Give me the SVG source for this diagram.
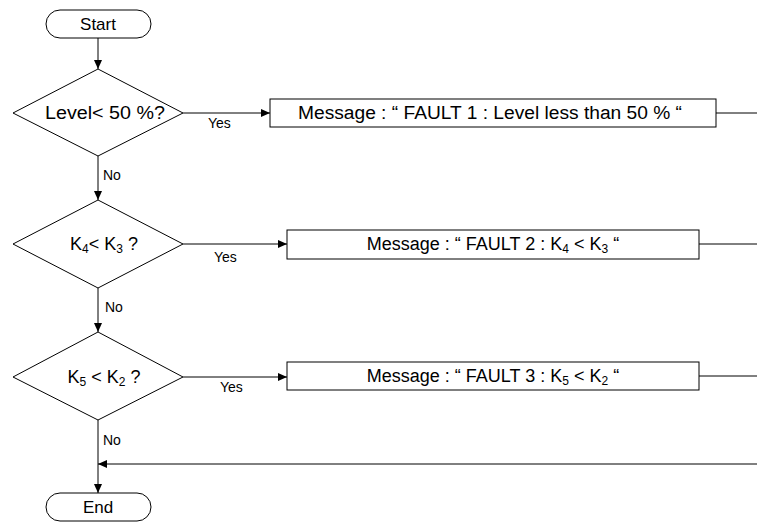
<svg xmlns="http://www.w3.org/2000/svg" width="757" height="523" viewBox="0 0 757 523">
  <style>
    .shape { fill: #ffffff; stroke: #000000; stroke-width: 1; }
    .line { fill: none; stroke: #000000; stroke-width: 1; }
    .main { font-family: "Liberation Sans", Arial, sans-serif; font-size: 18px; fill: #000000; text-anchor: middle; }
    .term { font-family: "Liberation Sans", Arial, sans-serif; font-size: 17px; fill: #000000; text-anchor: middle; }
    .lbl { font-family: "Liberation Sans", Arial, sans-serif; font-size: 14px; fill: #000000; }
    .sub { font-size: 12px; }
  </style>
  <defs>
    <marker id="arrow" markerWidth="10" markerHeight="10" refX="9" refY="5" orient="auto" markerUnits="userSpaceOnUse">
      <path d="M0,1 L9,5 L0,9 Z" fill="#000000"/>
    </marker>
  </defs>
  <rect width="757" height="523" fill="#ffffff"/>

  <!-- connectors -->
  <g id="connectors">
    <line class="line" x1="98" y1="38" x2="98" y2="69" marker-end="url(#arrow)"/>
    <line class="line" x1="183" y1="113" x2="270" y2="113" marker-end="url(#arrow)"/>
    <line class="line" x1="716" y1="113" x2="757" y2="113"/>
    <line class="line" x1="98" y1="156" x2="98" y2="200" marker-end="url(#arrow)"/>
    <line class="line" x1="183" y1="244" x2="287" y2="244" marker-end="url(#arrow)"/>
    <line class="line" x1="699" y1="244" x2="757" y2="244"/>
    <line class="line" x1="98" y1="288" x2="98" y2="332" marker-end="url(#arrow)"/>
    <line class="line" x1="183" y1="377" x2="287" y2="377" marker-end="url(#arrow)"/>
    <line class="line" x1="699" y1="376" x2="757" y2="376"/>
    <line class="line" x1="98" y1="420" x2="98" y2="493" marker-end="url(#arrow)"/>
    <line class="line" x1="757" y1="464" x2="98" y2="464" marker-end="url(#arrow)"/>
    <text class="lbl" x="208" y="128">Yes</text>
    <text class="lbl" x="103" y="180">No</text>
    <text class="lbl" x="214" y="262">Yes</text>
    <text class="lbl" x="105" y="312">No</text>
    <text class="lbl" x="220" y="392">Yes</text>
    <text class="lbl" x="103" y="445">No</text>
  </g>

  <g id="start">
    <rect class="shape" x="46" y="10" width="105" height="28" rx="14" ry="14"/>
    <text class="term" x="98" y="30">Start</text>
  </g>

  <g id="level-check">
    <polygon class="shape" points="98,69 183,113 98,156 13,113"/>
    <text class="main" x="105" y="119" textLength="120" lengthAdjust="spacingAndGlyphs">Level<tspan>&lt; 50 %?</tspan></text>
  </g>

  <g id="fault1">
    <rect class="shape" x="270" y="99" width="446" height="28"/>
    <text class="main" x="490" y="119" textLength="384" lengthAdjust="spacingAndGlyphs">Message : “ FAULT 1 : Level less than 50 % “</text>
  </g>

  <g id="k4-check">
    <polygon class="shape" points="98,200 183,244 98,288 13,244"/>
    <text class="main" x="104" y="250">K<tspan class="sub" dy="3">4</tspan><tspan dy="-3">&lt; K</tspan><tspan class="sub" dy="3">3</tspan><tspan dy="-3"> ?</tspan></text>
  </g>

  <g id="fault2">
    <rect class="shape" x="287" y="230" width="412" height="29"/>
    <text class="main" x="493" y="250">Message : “ FAULT 2 : K<tspan class="sub" dy="3">4</tspan><tspan dy="-3"> &lt; K</tspan><tspan class="sub" dy="3">3</tspan><tspan dy="-3"> “</tspan></text>
  </g>

  <g id="k5-check">
    <polygon class="shape" points="98,332 183,377 98,420 13,377"/>
    <text class="main" x="104" y="383">K<tspan class="sub" dy="3">5</tspan><tspan dy="-3"> &lt; K</tspan><tspan class="sub" dy="3">2</tspan><tspan dy="-3"> ?</tspan></text>
  </g>

  <g id="fault3">
    <rect class="shape" x="287" y="362" width="412" height="28"/>
    <text class="main" x="493" y="382">Message : “ FAULT 3 : K<tspan class="sub" dy="3">5</tspan><tspan dy="-3"> &lt; K</tspan><tspan class="sub" dy="3">2</tspan><tspan dy="-3"> “</tspan></text>
  </g>

  <g id="end">
    <rect class="shape" x="46" y="493" width="105" height="28" rx="14" ry="14"/>
    <text class="term" x="98" y="513">End</text>
  </g>
</svg>
